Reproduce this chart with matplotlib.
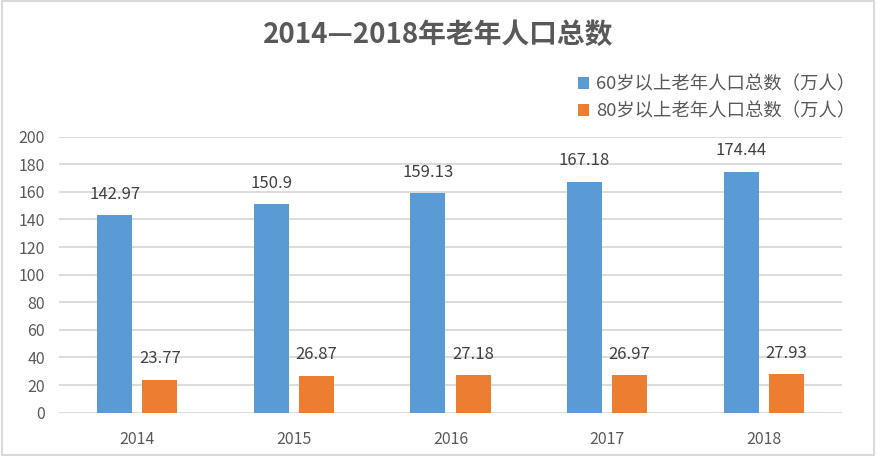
import numpy as np
import matplotlib
matplotlib.use('Agg')
import matplotlib.pyplot as plt
from matplotlib.patches import Rectangle

# ========== 数据 ==========
years = ['2014', '2015', '2016', '2017', '2018']
over60 = [142.97, 150.9, 159.13, 167.18, 174.44]
over80 = [23.77, 26.87, 27.18, 26.97, 27.93]
label60 = '60岁以上老年人口总数（万人）'
label80 = '80岁以上老年人口总数（万人）'
title = '2014—2018年老年人口总数'

# ========== 样式 ==========
plt.rcParams['font.family'] = ['Noto Sans CJK SC', 'DejaVu Sans']
blue = '#5B9BD5'
orange = '#ED7D31'
grid_c = '#D9D9D9'
tick_c = '#595959'
text_c = '#404040'

fig = plt.figure(figsize=(8.77, 4.57), dpi=100)
ax = fig.add_axes([0.0673, 0.097, 0.8927, 0.604])

x = np.arange(len(years))
w = 0.2235
off = 0.144
b1 = ax.bar(x - off, over60, w, color=blue, label=label60, zorder=3)
b2 = ax.bar(x + off, over80, w, color=orange, label=label80, zorder=3)

# 数据标签
for bars, vals in ((b1, over60), (b2, over80)):
    for r, v in zip(bars, vals):
        ax.annotate(f'{v:g}', (r.get_x() + r.get_width() / 2, r.get_height()),
                    xytext=(0, 9), textcoords='offset points',
                    ha='center', va='bottom', fontsize=12, color=text_c)

ax.set_xlim(-0.5, len(years) - 0.5)
ax.set_ylim(0, 200)
ax.set_yticks(np.arange(0, 201, 20))
ax.set_xticks(x)
ax.set_xticklabels(years)
ax.yaxis.grid(True, color=grid_c, linewidth=1.3, zorder=0)
ax.set_axisbelow(True)
for s in ax.spines.values():
    s.set_visible(False)
ax.tick_params(length=0, labelsize=11.5, colors=tick_c)
ax.tick_params(axis='x', pad=13)
ax.tick_params(axis='y', pad=10)

fig.text(0.5, 0.923, title, ha='center', va='center', fontsize=20,
         fontweight='bold', color=tick_c)

fig.legend(handles=[b1, b2], loc='center left', bbox_to_anchor=(0.659, 0.786),
           frameon=False, fontsize=13.2, borderpad=0, borderaxespad=0,
           handlelength=0.6, handleheight=0.6, handletextpad=0.4,
           labelspacing=0.5, labelcolor=tick_c)

# 外边框
fig.patches.append(Rectangle((0.002, 0.004), 0.995, 0.993, transform=fig.transFigure,
                             fill=False, edgecolor=grid_c, linewidth=1.5))

fig.savefig('out.png', dpi=100)
